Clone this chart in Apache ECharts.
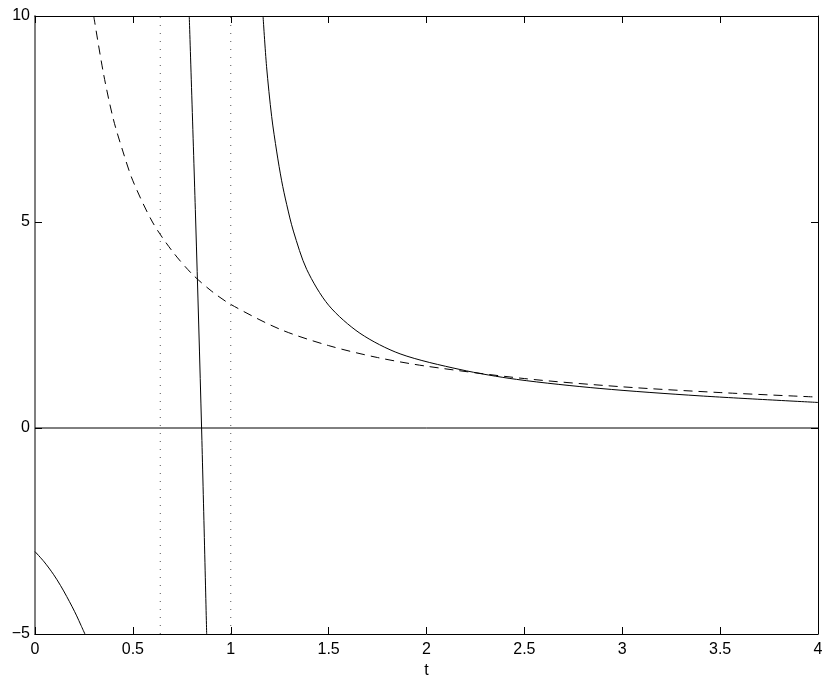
<!DOCTYPE html>
<html>
<head>
<meta charset="utf-8">
<script src="https://cdn.jsdelivr.net/npm/echarts@6/dist/echarts.min.js"></script>
<style>
  html, body { margin: 0; padding: 0; background: #fff; }
  #main { width: 830px; height: 681px; }
</style>
</head>
<body>
<div id="main"></div>
<script>
// values
var xTicks = [0, 0.5, 1, 1.5, 2, 2.5, 3, 3.5, 4];
var yTicks = [-5, 0, 5, 10];

// dashed curve
var dashT = [0.3, 0.35, 0.4, 0.45, 0.5, 0.6, 0.7, 0.8, 0.9, 1, 1.25, 1.5, 1.75, 2, 2.5, 3, 3.5, 4];
var dashY = [10, 8.6, 7.5, 6.7, 6, 5, 4.3, 3.75, 3.33, 3, 2.4, 2, 1.71, 1.5, 1.2, 1, 0.86, 0.75];

// solid curve, left piece
var leftT = [0, 0.047, 0.094, 0.13, 0.162, 0.19, 0.213, 0.235, 0.255];
var leftY = [-3, -3.25, -3.55, -3.82, -4.09, -4.34, -4.56, -4.79, -5];

// solid curve, steep middle piece
var midT = [0.788, 0.821, 0.851, 0.877];
var midY = [10, 5, 0, -5];

// solid curve, right piece
var rightT = [1.165, 1.183, 1.209, 1.235, 1.26, 1.286, 1.32, 1.388, 1.5, 1.66, 1.865, 2.171, 2.46, 2.886, 3.397, 4.0];
var rightY = [10, 8.77, 7.56, 6.7, 6.0, 5.42, 4.78, 3.85, 2.98, 2.3, 1.8, 1.42, 1.18, 0.96, 0.78, 0.62];

// dotted verticals and the zero line
var dotX = [0.64, 1.0];
var zeroT = [0, 4];
var zeroY = [0, 0];

function pairs(xs, ys) {
    var out = [];
    for (var i = 0; i < xs.length; i++) out.push([xs[i], ys[i]]);
    return out;
}

var chart = echarts.init(document.getElementById('main'));
var font = 'Liberation Sans, Arial, sans-serif';

function axisBase(extra) {
    var a = {
        type: 'value',
        axisLine: { show: true, onZero: false, lineStyle: { color: '#000', width: 1 } },
        axisTick: { show: true, inside: true, length: 7, lineStyle: { color: '#000', width: 1 } },
        splitLine: { show: false }
    };
    return Object.assign(a, extra);
}

function curve(data, dash) {
    return {
        type: 'line', data: data, symbol: 'none', smooth: 0.3,
        lineStyle: { color: '#000', width: 1, type: dash || 'solid' }
    };
}

var series = [
    {
        type: 'line', data: pairs(zeroT, zeroY), symbol: 'none',
        lineStyle: { color: '#000', width: 1 }, silent: true
    },
    curve(pairs(dashT, dashY), [9, 6]),
    curve(pairs(leftT, leftY)),
    curve(pairs(midT, midY)),
    curve(pairs(rightT, rightY))
];
dotX.forEach(function (x) {
    series.push({
        type: 'line', data: [[x, yTicks[0]], [x, yTicks[yTicks.length - 1]]], symbol: 'none',
        lineStyle: { color: '#555', width: 1, type: [1, 7] }
    });
});

var option = {
    animation: false,
    backgroundColor: '#fff',
    grid: { left: 35, right: 12, top: 16, bottom: 47, containLabel: false, outerBoundsMode: 'none' },
    xAxis: [
        axisBase({
            min: xTicks[0], max: xTicks[xTicks.length - 1], interval: 0.5,
            position: 'bottom',
            name: 't', nameLocation: 'middle', nameGap: 28,
            nameTextStyle: { fontFamily: font, fontSize: 16, color: '#000' },
            axisLabel: { fontFamily: font, fontSize: 16, color: '#000', margin: 8 }
        }),
        axisBase({
            min: xTicks[0], max: xTicks[xTicks.length - 1], interval: 0.5,
            position: 'top', axisLabel: { show: false }
        })
    ],
    yAxis: [
        axisBase({
            min: yTicks[0], max: yTicks[yTicks.length - 1], interval: 5,
            position: 'left',
            axisLine: { show: true, onZero: false, lineStyle: { color: '#7f7f7f', width: 2 } },
            axisLabel: {
                fontFamily: font, fontSize: 16, color: '#000', margin: 5,
                formatter: function (v) { return String(v).replace('-', '\u2212'); }
            }
        }),
        axisBase({
            min: yTicks[0], max: yTicks[yTicks.length - 1], interval: 5,
            position: 'right', axisLabel: { show: false }
        })
    ],
    series: series
};
chart.setOption(option);
</script>
</body>
</html>
